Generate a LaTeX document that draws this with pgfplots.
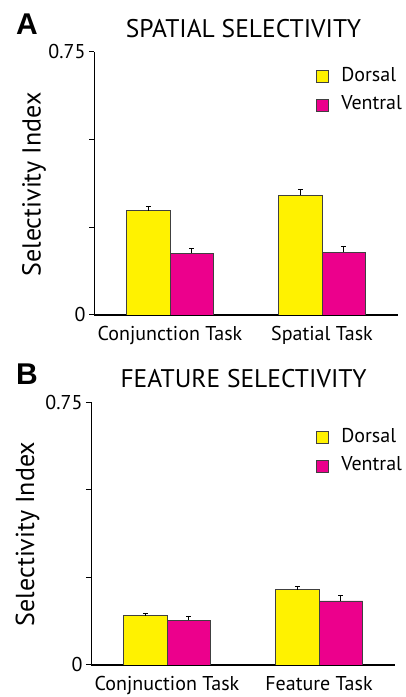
\documentclass[border=0pt]{standalone}
\usepackage{fontspec}
\setmainfont{PT Sans}
\newfontfamily\labelfont{Liberation Sans}
\usepackage{pgfplots}
\pgfplotsset{compat=1.18}
\definecolor{dorsal}{HTML}{FFF200}
\definecolor{ventral}{HTML}{EC008C}
\begin{document}
\begin{tikzpicture}
\useasboundingbox (0pt,0pt) rectangle (406pt,697pt);
\pgfplotsset{
 panel/.style={
  scale only axis, width=304pt, height=263pt,
  anchor=south west,
  xmin=-0.5, xmax=1.5, ymin=0, ymax=0.75,
  axis x line*=bottom, axis y line*=left,
  x axis line style={line width=1.6pt,-},
  y axis line style={line width=1pt,-},
  xtick={0,1},
  major x tick style={draw=none},
  ytick={0,0.25,0.5,0.75},
  yticklabels={0,,,0.75},
  tick align=outside,
  major tick length=5pt,
  every tick/.style={line width=1pt,black},
  /pgf/number format/assume math mode=true,
  yticklabel style={font=\fontsize{20}{24}\selectfont},
  xticklabel style={font=\fontsize{20}{24}\selectfont, yshift=-3pt},
  ybar=0pt, bar width=43.5pt,
  legend image code/.code={\draw[#1,draw=black!75,line width=0.7pt] (0pt,-8pt) rectangle (11.5pt,3.5pt);},
  legend style={draw=none, fill=none, inner sep=0pt, anchor=north west,
    font=\fontsize{20}{24}\selectfont, row sep=13.5pt,
    nodes={inner sep=0pt, text depth=0pt}},
  legend cell align=left,
 },
 dbar/.style={draw=black!75, line width=0.7pt,
  /pgfplots/error bars/y dir=plus, /pgfplots/error bars/y explicit,
  /pgfplots/error bars/error bar style={line width=0.8pt,black},
  /pgfplots/error bars/error mark options={rotate=90, mark size=2.5pt, line width=0.8pt, black}},
}
% Panel A
\begin{axis}[panel, at={(94pt,382pt)},
  xticklabels={Conjunction Task, Spatial Task},
  legend style={at={(0.730,0.944)}}]
\addplot[dbar, fill=dorsal] coordinates {(0,0.297) +- (0,0.012) (1,0.342) +- (0,0.016)};
\addlegendentry{\hspace*{13pt}Dorsal}
\addplot[dbar, fill=ventral] coordinates {(0,0.176) +- (0,0.015) (1,0.179) +- (0,0.016)};
\addlegendentry{\hspace*{13pt}Ventral}
\end{axis}
% Panel B
\begin{axis}[panel, at={(91pt,32pt)}, height=262.7pt,
  xticklabels={Conjnuction Task, Feature Task},
  legend style={at={(0.740,0.903)}}]
\addplot[dbar, fill=dorsal] coordinates {(0,0.141) +- (0,0.007) (1,0.215) +- (0,0.009)};
\addlegendentry{\hspace*{13pt}Dorsal}
\addplot[dbar, fill=ventral] coordinates {(0,0.128) +- (0,0.012) (1,0.183) +- (0,0.016)};
\addlegendentry{\hspace*{13pt}Ventral}
\end{axis}
% titles and labels
\node[anchor=base, font=\fontsize{25.5}{30}\selectfont] at (243.5pt,659.5pt) {SPATIAL SELECTIVITY};
\node[anchor=base, font=\fontsize{25.5}{30}\selectfont] at (243.5pt,309.5pt) {FEATURE SELECTIVITY};
\node[anchor=base west, inner sep=0pt, font=\labelfont\bfseries\fontsize{30}{34}\selectfont] at (16pt,662pt) {A};
\node[anchor=base west, inner sep=0pt, font=\labelfont\bfseries\fontsize{30}{34}\selectfont] at (16pt,312pt) {B};
\node[rotate=90, font=\fontsize{26}{30}\selectfont] at (34pt,512.5pt) {Selectivity Index};
\node[rotate=90, font=\fontsize{26}{30}\selectfont] at (27.5pt,163pt) {Selectivity Index};
\end{tikzpicture}
\end{document}
